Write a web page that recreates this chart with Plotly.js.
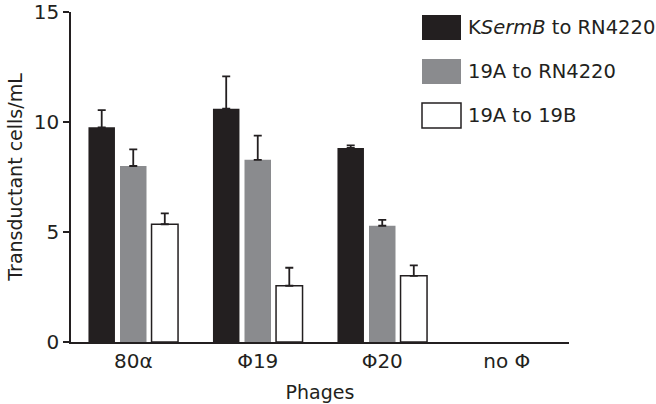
<!DOCTYPE html>
<html>
<head>
<meta charset="utf-8">
<script src="https://cdn.plot.ly/plotly-3.0.1.min.js"></script>
<style>
  body { margin: 0; background: #fff; }
  #chart { width: 656px; height: 404px; }
</style>
</head>
<body>
<div id="chart"></div>
<script>
var phages = ['80α', 'Φ19', 'Φ20', 'no Φ'];

var seriesNames = ['K<i>SermB</i> to RN4220', '19A to RN4220', '19A to 19B'];
// no Φ: nothing detected, no bar drawn
var ksermbRN4220 = [9.77, 10.62, 8.83, null];
var ksermbErr = [0.78, 1.47, 0.12, null];
var a19RN4220 = [8.01, 8.29, 5.29, null];
var a19RN4220Err = [0.76, 1.10, 0.27, null];
var a19to19B = [5.36, 2.56, 3.01, null];
var a19to19BErr = [0.49, 0.82, 0.48, null];

var ink = '#231f20';
var fills = [ink, '#8a8b8e', '#ffffff'];
var fontFam = 'DejaVu Sans, sans-serif';

function bars(vals, errs, i) {
  return {
    type: 'bar',
    x: phages,
    y: vals,
    name: seriesNames[i],
    marker: { color: fills[i], line: { color: i == 2 ? ink : fills[i], width: i == 2 ? 1.5 : 0 } },
    error_y: { type: 'data', array: errs, arrayminus: errs.map(function () { return 0; }),
               symmetric: false, color: ink, thickness: 1.8, width: 4 },
    showlegend: false
  };
}

var data = [
  bars(ksermbRN4220, ksermbErr, 0),
  bars(a19RN4220, a19RN4220Err, 1),
  bars(a19to19B, a19to19BErr, 2)
];

// hand-made legend with big swatches, as in the original figure
var shapes = [], annotations = [];
var legTop = [15, 59, 103];
for (var i = 0; i < 3; i++) {
  shapes.push({
    type: 'rect', xref: 'paper', yref: 'paper',
    x0: (422 - 71) / 498, x1: (461 - 71) / 498,
    y0: (342 - legTop[i] - 25) / 330, y1: (342 - legTop[i]) / 330,
    fillcolor: fills[i], line: { color: ink, width: i == 2 ? 1.5 : 0 }
  });
  annotations.push({
    xref: 'paper', yref: 'paper', x: (466 - 71) / 498, y: (342 - legTop[i] - 12.5) / 330,
    xanchor: 'left', yanchor: 'middle', showarrow: false,
    text: seriesNames[i], font: { family: fontFam, size: 19.5, color: ink }
  });
}

var layout = {
  width: 656, height: 404,
  margin: { l: 71, r: 87, t: 12, b: 62 },
  paper_bgcolor: '#fff', plot_bgcolor: '#fff',
  font: { family: fontFam, size: 19, color: ink },
  barmode: 'group', bargap: 0.24, bargroupgap: 0.16,
  xaxis: {
    title: { text: 'Phages', standoff: 14, font: { size: 19 } },
    showline: true, linecolor: ink, linewidth: 1.5, ticks: '', showgrid: false,
    tickfont: { size: 20 }, automargin: false
  },
  yaxis: {
    title: { text: 'Transductant cells/mL', standoff: 6, font: { size: 19 } },
    range: [0, 15.02], tickvals: [0, 5, 10, 15],
    showline: true, linecolor: ink, linewidth: 1.5,
    ticks: 'outside', ticklen: 6, tickwidth: 1.5, tickcolor: ink,
    showgrid: false, zeroline: false, tickfont: { size: 20 }, automargin: false
  },
  shapes: shapes,
  annotations: annotations
};

Plotly.newPlot('chart', data, layout, { displayModeBar: false });
</script>
</body>
</html>
